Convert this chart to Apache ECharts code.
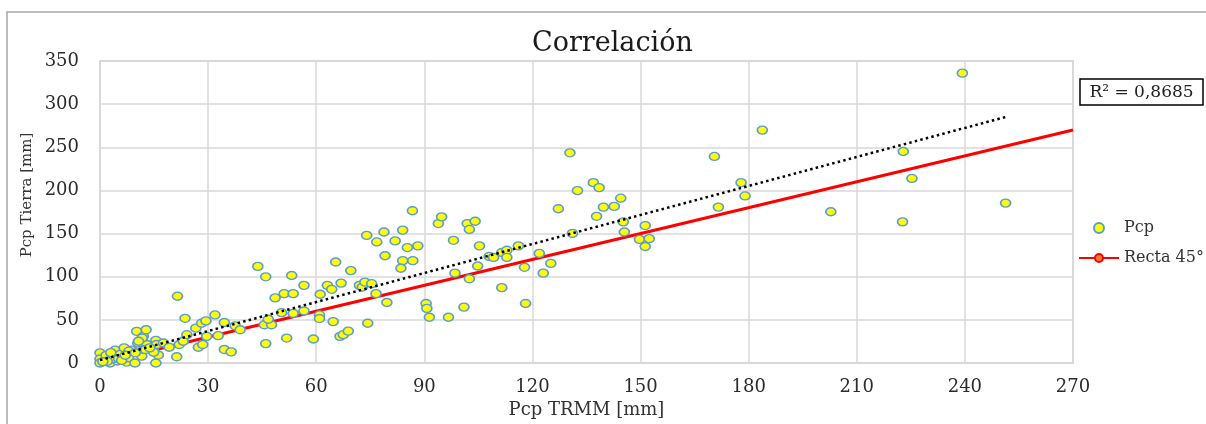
<!DOCTYPE html>
<html>
<head>
<meta charset="utf-8">
<script src="https://cdn.jsdelivr.net/npm/echarts@6/dist/echarts.min.js"></script>
<style>
html,body{margin:0;padding:0;background:#fff;}
#c{width:1206px;height:424px;}
</style>
</head>
<body>
<div id="c"></div>
<script>
// ---- Data ----
// Pcp TRMM [mm] (x) and Pcp Tierra [mm] (y), same order
const pcpTrmm = [
  0,0,0,1.7,2.8,4.2,5.6,4.8,6.7,7.4,7.9,8.8,9.7,10.2,10.5,11.1,11.6,12,12.8,12.2,
  13,15,15.5,15.5,16.2,15.7,17.6,19.2,21.3,21.5,22,23.6,23.1,24.1,26.6,27.3,28.5,28.2,29.4,29.6,
  31.9,32.8,34.5,34.5,36.4,37.5,38.9,3.5,5.2,8,9.8,11.7,10.7,12.6,14.9,6,3,2,7,0.8,13.8,
  43.8,46,46,45.6,47.6,46.7,48.6,50.4,51.1,51.8,53.2,53.6,53.6,56.6,56.6,59.2,60.9,60.9,61.1,64.7,
  65.4,63.1,64.3,66.6,67.5,68.9,66.9,69.6,72,72.8,73.5,75.4,74.3,74,76.6,76.8,78.8,79.1,79.6,81.9,
  84,84,83.5,85.3,86.7,86.8,88.2,90.5,90.7,91.4,93.9,94.8,96.7,98.1,98.5,101,101.9,102.5,104.1,102.5,
  104.8,105.3,108,109.2,111.5,111.5,112.9,112.9,116.1,117.8,118.1,121.9,123,125.1,127.2,131.1,137.8,139.7,142.7,144.5,
  145.2,145.5,149.7,151.3,152.4,151.3,171.6,179,
  130.4,136.9,138.5,132.5,170.5,177.9,183.8,239.3,222.9,225.3,202.8,222.7,251.3
];
const pcpTierra = [
  11.8,4.6,0,8.8,0,14.9,10,2.3,17.5,1.1,6.1,14.9,0,36.6,23.2,11.8,8,30.9,38.5,15.6,
  21.4,12.9,0,26.3,9.2,21.4,23.2,18.3,7.2,77.4,21.4,51.8,25.2,32.8,40.4,18.3,21.4,46.1,48.8,30.9,
  55.7,31.7,46.9,15.6,12.9,43.1,38.5,5,5,13.7,11.8,29,25.2,15.6,12.6,3,12,2,9,1.5,17.5,
  112,99.9,22.5,44.3,44.3,50.7,75.5,58.3,80.4,28.9,101.4,80.4,57.5,90,60.3,27.8,55.7,51.5,79.7,48,
  117,90,85.4,30.9,32.8,36.9,92.6,107.1,90,88,93.8,91.9,46.1,147.9,80.4,140.3,151.8,124.3,70.1,141.5,
  154,118.6,109.8,133.8,176.5,118.6,135.8,69,63.3,53,161.6,169.3,53,142.2,104.1,64.8,161.6,154.8,164.3,97.6,
  112.4,135.8,123.5,122.4,87.3,128.1,130.7,122.4,135.8,110.9,69,127,104.1,115.5,178.8,150.2,170,180.7,181.5,191,
  163.6,151.8,143.3,159.3,144.1,135,180.7,193.6,
  243.6,209,203.2,199.8,239.4,209,269.9,335.9,245.1,213.9,175.3,163.6,185.3
];
// 45° reference line
const recta45X = [0, 270];
const recta45Y = [0, 270];
// Linear trend line (dotted), end points
const trendX = [0, 251.3];
const trendY = [3.4, 285.1];
const r2Label = 'R\u00B2 = 0,8685';
const legendNames = ['Pcp', 'Recta 45°'];

const FONT = 'DejaVu Serif';
const chart = echarts.init(document.getElementById('c'), null, {renderer: 'canvas'});

const pcpData = pcpTrmm.map((x, i) => [x, pcpTierra[i]]);
const rectaData = recta45X.map((x, i) => [x, recta45Y[i]]);
const trendData = trendX.map((x, i) => [x, trendY[i]]);

const option = {
  animation: false,
  backgroundColor: '#ffffff',
  title: {
    text: 'Correlación',
    left: 532, top: 30, padding: 0,
    textStyle: {fontFamily: FONT, fontSize: 27, fontWeight: 'normal', color: '#1a1a1a'}
  },
  grid: {
    left: 100, top: 61, right: 133, bottom: 57,
    show: true, borderColor: '#C8C8C8', borderWidth: 1.5, backgroundColor: 'transparent'
  },
  xAxis: {
    type: 'value', min: 0, max: 270, interval: 30,
    name: 'Pcp TRMM [mm]', nameLocation: 'middle', nameGap: 38,
    nameTextStyle: {fontFamily: FONT, fontSize: 18, color: '#333'},
    axisLine: {show: false}, axisTick: {show: false},
    axisLabel: {margin: 15, fontFamily: FONT, fontSize: 18, color: '#2b2b2b'},
    splitLine: {lineStyle: {color: '#D9D9D9', width: 1.5}}
  },
  yAxis: {
    type: 'value', min: 0, max: 350, interval: 50,
    axisLine: {show: false}, axisTick: {show: false},
    axisLabel: {margin: 21, fontFamily: FONT, fontSize: 18, color: '#2b2b2b'},
    splitLine: {lineStyle: {color: '#D9D9D9', width: 1.5}}
  },
  legend: {
    orient: 'vertical', left: 1078, top: 220, padding: 0,
    itemWidth: 40, itemHeight: 10, itemGap: 14,
    textStyle: {fontFamily: FONT, fontSize: 16, color: '#333'},
    data: [
      {name: legendNames[0]},
      {name: legendNames[1]}
    ]
  },
  series: [
    {
      name: legendNames[1], type: 'line', data: rectaData,
      symbol: 'circle', symbolSize: 8, showSymbol: false,
      lineStyle: {color: '#FF0000', width: 3},
      itemStyle: {color: '#ED7D31', borderColor: '#FF0000', borderWidth: 1.5},
      z: 2, silent: true
    },
    {
      name: legendNames[0], type: 'scatter', data: pcpData,
      symbol: 'circle', symbolSize: [10, 8],
      itemStyle: {color: '#FFFF00', borderColor: '#5B9BD5', borderWidth: 1.5, opacity: 1},
      z: 3, silent: true
    },
    {
      name: 'Lineal (Pcp)', type: 'line', data: trendData,
      symbol: 'none',
      lineStyle: {color: '#000000', width: 2.5, type: [2.5, 3.2]},
      z: 4, silent: true
    }
  ],
  graphic: [
    {type: 'rect', silent: true, z: -10,
     shape: {x: 7, y: 12, width: 1400, height: 600},
     style: {fill: 'none', stroke: '#A6A6A6', lineWidth: 1.5}},
    {type: 'text', silent: true, x: 27, y: 195, rotation: Math.PI / 2,
     style: {text: 'Pcp Tierra [mm]', font: '15px "DejaVu Serif"', fill: '#333', align: 'center', verticalAlign: 'middle'}},
    {type: 'rect', silent: true,
     shape: {x: 1080, y: 79, width: 123, height: 26},
     style: {fill: '#ffffff', stroke: '#000000', lineWidth: 1.5}},
    {type: 'text', silent: true, x: 1141.5, y: 92.5,
     style: {text: r2Label, font: '17px "DejaVu Serif"', fill: '#222', align: 'center', verticalAlign: 'middle'}}
  ]
};
chart.setOption(option);
</script>
</body>
</html>
